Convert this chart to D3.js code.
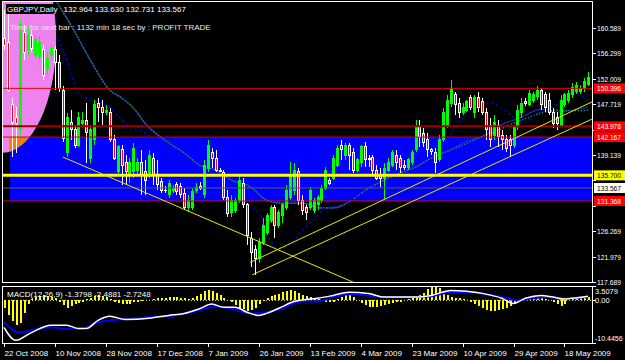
<!DOCTYPE html>
<html><head><meta charset="utf-8">
<script src="https://cdn.jsdelivr.net/npm/d3@7"></script>
<style>body{margin:0;background:#000;overflow:hidden}svg{display:block}</style>
</head><body><svg id="c" width="625" height="360"></svg>
<script>
// ---------- DATA ----------
const symbolText = "GBPJPY,Daily";
const quoteText = "132.964 133.630 132.731 133.567";
const timerText = "Time for next bar : 1132 min 18 sec by : PROFIT TRADE";
const macdText = "MACD(12,26,9) -1.3798 -2.4881 -2.7248";
const dateLabels = ["22 Oct 2008","10 Nov 2008","28 Nov 2008","17 Dec 2008","7 Jan 2009","26 Jan 2009","13 Feb 2009","4 Mar 2009","23 Mar 2009","10 Apr 2009","29 Apr 2009","18 May 2009"];
const priceTicks = [160.589,156.299,152.009,147.719,143.429,139.139,134.849,130.559,126.269,121.979,117.689];
const macdTicks = [3.5079,0,-10.4456];

const opens = [158.9,158.1,147.6,145.4,143.4,159.9,156.9,159.4,156.0,155.7,
156.9,153.8,155.9,156.9,154.8,150.1,139.6,144.7,143.4,140.8,
144.5,145.0,138.6,141.7,147.9,147.2,146.4,146.4,141.7,136.3,
140.0,137.9,135.7,136.3,136.6,137.8,136.3,135.7,138.6,135.7,
134.6,133.2,132.4,133.2,134.1,133.9,132.7,130.2,130.3,133.2,
133.9,132.4,136.9,139.6,138.6,136.6,136.1,132.0,129.5,129.8,
131.5,134.4,130.7,125.1,123.1,121.7,124.4,126.1,128.1,130.2,
127.3,129.0,130.2,131.9,133.2,136.3,131.5,130.2,130.3,129.8,
130.7,131.5,133.5,134.9,135.2,137.4,140.8,139.1,140.8,139.6,
136.6,137.8,140.5,138.6,138.8,136.6,135.7,135.2,136.6,137.4,
139.1,138.6,137.4,137.1,137.9,140.0,143.9,142.8,141.7,140.0,
139.5,138.3,141.7,144.2,147.9,149.3,147.9,146.4,146.7,148.8,
146.4,148.9,148.1,146.4,144.2,142.5,144.2,142.5,141.7,141.7,
140.8,143.9,146.4,148.2,147.7,148.4,149.1,150.1,149.3,148.4,
146.4,145.5,144.2,147.6,148.4,149.3,149.8,149.9,150.3,151.1];
const highs = [163.6,164.5,148.8,147.2,161.9,161.1,160.6,160.2,159.4,159.2,
157.7,156.5,157.7,157.5,156.0,150.8,146.2,146.7,144.2,146.4,
146.4,147.9,144.2,148.4,148.8,148.4,147.6,147.1,142.5,140.8,
140.8,139.1,138.6,141.2,138.6,140.0,138.3,140.0,139.5,138.3,
135.2,133.9,134.9,134.1,134.6,134.4,133.6,132.4,133.6,134.4,
134.6,138.3,141.7,140.3,140.0,136.9,136.6,133.2,132.4,131.9,
135.7,135.2,131.0,126.1,123.9,125.1,128.5,129.3,130.7,130.7,
129.8,131.0,134.1,137.9,137.8,136.9,132.4,130.7,133.7,131.9,
132.4,134.1,137.1,135.2,139.1,140.8,141.7,141.2,141.2,140.3,
138.6,140.8,141.3,139.1,139.1,137.4,136.9,137.8,138.6,140.0,
140.0,139.1,138.3,138.6,140.0,145.0,145.0,143.7,142.8,140.3,
140.3,142.5,147.1,149.3,151.8,149.8,148.8,147.9,148.4,149.3,
149.3,149.8,148.8,147.1,145.4,145.9,145.0,143.4,142.5,142.5,
144.2,147.6,148.8,148.8,150.1,149.8,150.8,150.4,149.8,149.6,
147.1,146.4,149.3,149.6,150.1,151.3,151.5,150.9,152.1,153.1];
const lows = [156.9,149.8,138.8,139.5,142.5,155.2,155.9,156.5,155.5,155.2,
151.8,152.6,155.2,150.1,149.8,141.3,138.8,141.7,140.3,140.5,
144.2,137.8,137.8,140.8,144.7,144.2,145.9,141.3,138.3,135.7,
134.1,134.1,134.4,135.2,135.7,132.4,132.4,135.2,134.1,133.2,
132.7,132.7,131.9,132.7,132.4,131.9,129.8,129.5,129.8,132.7,
133.2,131.9,136.3,136.9,136.3,136.3,131.5,128.6,128.6,129.3,
131.0,130.2,123.9,120.2,118.8,120.9,123.9,125.6,127.6,125.1,
126.8,127.6,129.8,131.5,132.4,130.7,129.0,128.1,129.8,129.3,
129.8,131.0,133.2,134.1,134.9,137.1,138.3,138.3,136.6,136.1,
136.3,137.1,137.1,137.1,135.7,134.9,133.7,131.5,136.3,137.1,
136.6,136.1,136.6,136.6,137.4,139.6,140.5,140.5,138.8,139.1,
136.1,137.9,141.3,143.7,147.2,145.9,145.4,145.9,146.4,146.7,
145.4,146.4,145.9,141.7,140.5,141.7,140.5,140.0,139.6,138.8,
140.3,143.4,145.4,147.4,147.4,147.9,148.4,146.7,146.4,145.9,
143.7,143.4,143.9,147.2,147.9,148.8,149.4,149.4,149.8,150.8];
const closes = [157.7,150.1,144.7,144.5,161.1,156.5,159.4,157.2,158.6,158.2,
152.6,155.5,157.2,154.8,150.4,142.0,145.5,143.4,140.8,145.4,
145.0,143.0,143.4,147.6,147.1,146.4,146.7,141.7,138.6,140.5,
137.4,136.3,137.8,140.3,137.8,135.7,134.9,139.1,135.7,134.1,
133.2,133.2,134.4,133.5,132.9,132.4,130.3,131.5,132.9,133.7,
133.5,137.4,140.8,138.6,136.6,136.5,132.0,129.3,131.5,131.5,
134.9,130.7,125.6,122.7,121.7,124.4,127.3,129.0,130.3,127.3,
129.5,130.7,133.2,135.7,136.6,131.5,129.8,129.5,133.2,131.5,
131.9,133.5,136.6,134.4,138.6,140.3,140.0,140.8,139.1,136.6,
138.3,140.5,138.3,138.3,136.6,135.2,135.2,136.9,137.9,139.5,
137.8,137.1,137.1,138.3,139.6,143.7,142.2,141.3,140.0,139.8,
137.8,141.7,146.4,148.4,150.4,147.6,146.4,147.2,148.1,147.1,
148.8,147.1,146.4,143.4,141.7,144.7,142.2,141.7,140.3,140.8,
143.7,146.7,147.9,147.9,149.6,149.4,150.1,147.6,147.1,146.4,
144.5,144.5,148.4,149.3,149.6,150.6,150.8,150.4,151.5,152.3];

// moving averages: [bar, price]
const maGreen = [[12,166.5],[14,164.4],[18,160.0],[22,155.2],[27,150.1],[30,148.8],[33,147.1],[36,144.5],[42,141.2],[46,139.5],[50,137.4],[54,136.6],[58,134.9],[63,133.7],[67,131.5],[71,131.0],[76,131.0],[81,130.2],[84,130.2],[88,131.2],[93,133.5],[97,134.9],[101,136.1],[105,137.1],[109,138.6],[114,140.0],[117,140.8],[121,142.0],[125,143.0],[130,144.5],[134,145.5],[138,146.4],[142,146.7],[146,146.6],[149,146.7]];
const maBlue = [[12,166.5],[14,164.4],[18,160.0],[22,155.2],[27,150.1],[30,148.8],[33,147.1],[36,144.5],[42,141.2],[46,139.5],[50,137.4],[54,136.6],[58,134.9],[63,133.7],[67,131.5],[71,131.0],[76,131.0],[81,130.2],[84,130.2],[88,131.2],[93,133.5],[97,134.9],[101,136.1],[105,137.1],[109,138.6],[114,140.0],[118,141.5],[122,142.3],[126,144.0],[132,145.5],[137,146.9],[141,146.4],[144,146.6],[149,147.2]];
const maDotted = [[14,158.6],[16,155.2],[19,149.6],[27,147.1],[32,143.9],[37,142.5],[42,138.3],[50,134.9],[55,132.4],[62,130.7],[65,129.3],[67,125.9],[70,123.4],[74,124.7],[76,126.4],[79,128.2],[82,130.2],[86,130.7],[91,132.4],[96,134.9],[101,136.3],[106,137.8],[111,140.3],[115,143.7],[118,146.2],[121,147.6],[124,147.9],[127,147.1],[130,145.5],[132,144.5],[136,146.2],[140,147.2],[143,148.4],[146,149.3],[149,148.4]];

// trend lines: [bar1, price1, bar2, price2]
const trendLines = [[15,138.8,90,117.4],[63.3,118.9,150,145.2],[62.8,121.0,150,148.1]];
// horizontal levels
const levelRed = [150.396,142.167,131.368];
const levelDark = [143.978];
const levelYellow = [135.700];
const levelClose = [133.567];
// rectangle (bar from, price top, price bottom) and ellipse box (bars, prices)
const rectBar = [1.5, 200];
const rectPrices = [142.167, 131.368];
const ellipseBars = [-14.3, 13.3];
const ellipsePrices = [177.6, 139.5];

// MACD
const macdHist = [-2.0,-3.5,-5.0,-6.0,-5.5,-3.0,-1.0,0.3,0.8,1.0,
1.2,1.0,0.8,0.6,-0.5,-1.2,-1.8,-1.5,-1.0,-0.6,
-0.3,0.3,0.6,1.0,1.2,1.0,0.8,0.3,-0.3,-0.6,
-0.8,-1.0,-0.8,-0.5,-0.3,-0.2,0.0,0.2,0.4,0.5,
0.6,0.6,0.8,0.8,0.7,0.6,0.5,0.4,0.6,1.0,
1.6,2.2,2.6,2.4,1.8,1.2,0.6,0.2,-0.5,-1.2,
-1.8,-2.2,-2.6,-2.4,-1.8,-1.0,-0.2,0.5,1.0,1.3,
1.6,2.0,2.4,2.6,2.2,1.8,1.4,1.0,0.8,0.6,
0.4,0.0,-0.3,-0.5,-0.3,0.3,0.8,1.2,1.2,0.8,
0.2,-0.6,-1.2,-1.6,-1.7,-1.6,-1.4,-1.2,-0.8,-0.6,
-0.4,-0.3,0.0,0.3,0.5,0.8,1.2,1.8,2.8,3.2,
3.3,3.0,2.4,1.2,0.8,0.6,0.5,0.4,0.2,-0.3,
-0.8,-1.4,-2.0,-2.4,-2.6,-2.6,-2.4,-2.2,-1.8,-1.3,
-0.8,-0.3,0.1,0.4,0.6,0.8,0.8,0.6,0.4,0.2,
-0.4,-1.0,-1.3,-0.8,0.0,0.5,0.8,0.9,0.8,0.8];
const macdMain = [[0,-6.6],[3,-9.8],[7,-7.9],[12,-6.1],[16,-6.1],[19,-6.9],[21,-6.9],[24,-4.9],[27,-3.9],[31,-4.7],[37,-4.4],[42,-3.7],[46,-3.2],[50,-2.0],[53,-0.9],[56,-1.7],[59,-1.7],[62,-2.9],[65,-3.7],[67,-3.2],[70,-2.0],[74,-0.3],[78,0.3],[80,0.5],[84,1.2],[88,2.0],[93,1.7],[97,0.8],[101,0.8],[105,0.8],[109,1.2],[114,2.4],[118,2.2],[122,1.7],[127,0.5],[130,-0.8],[133,0.5],[137,1.2],[140,0.8],[143,0.3],[145,0.5],[149,1.0]];
const macdSignal = [[0,-5.4],[4,-7.9],[7,-7.3],[12,-6.6],[16,-7.1],[20,-6.9],[24,-5.4],[29,-4.7],[33,-4.4],[37,-4.1],[42,-3.9],[46,-3.2],[50,-2.4],[54,-1.5],[58,-2.0],[63,-3.2],[67,-2.9],[71,-2.0],[76,-0.3],[80,-0.3],[84,0.8],[88,1.5],[93,1.2],[97,0.8],[101,0.8],[105,0.8],[109,1.0],[114,2.0],[118,2.0],[122,1.7],[127,0.8],[131,0.0],[135,0.5],[139,0.8],[144,0.5],[149,0.8]];

// ---------- DRAW ----------
const svg = d3.select("#c");
const FONT = "Liberation Sans, Arial, sans-serif";
const L = 2, R = 592, T = 1, B = 282, MT = 286, MB = 343;
const n = closes.length;
const x = d3.scaleLinear().domain([0, n - 1]).range([4, 588]);
const y = d3.scaleLinear().domain([117.689, 160.589]).range([282, 28]);
const my = d3.scaleLinear().domain([-10.4456, 3.5079]).range([MB, MT]);

svg.append("rect").attr("width", 625).attr("height", 360).attr("fill", "#000");
const defs = svg.append("defs");
defs.append("clipPath").attr("id", "plot").append("rect").attr("x", L + 1).attr("y", T + 1).attr("width", R - L - 1).attr("height", B - T - 1);
defs.append("clipPath").attr("id", "mplot").append("rect").attr("x", L + 1).attr("y", MT + 1).attr("width", R - L - 1).attr("height", MB - MT - 1);
const rx0 = x(rectBar[0]), ry0 = y(rectPrices[0]), ry1 = y(rectPrices[1]);
defs.append("clipPath").attr("id", "rectclip").append("rect").attr("x", rx0).attr("y", ry0).attr("width", R - rx0).attr("height", ry1 - ry0);

const g = svg.append("g").attr("clip-path", "url(#plot)");
const ecx = (x(ellipseBars[0]) + x(ellipseBars[1])) / 2, erx = (x(ellipseBars[1]) - x(ellipseBars[0])) / 2;
const ecy = (y(ellipsePrices[0]) + y(ellipsePrices[1])) / 2, ery = (y(ellipsePrices[1]) - y(ellipsePrices[0])) / 2;
g.append("ellipse").attr("cx", ecx).attr("cy", ecy).attr("rx", erx).attr("ry", ery).attr("fill", "#EE82EE");
g.append("rect").attr("x", rx0).attr("y", ry0).attr("width", R - rx0).attr("height", ry1 - ry0).attr("fill", "#0000FF");
g.append("g").attr("clip-path", "url(#rectclip)").append("ellipse").attr("cx", ecx).attr("cy", ecy).attr("rx", erx).attr("ry", ery).attr("fill", "#EE8211");

// moving averages
const maLine = d3.line().x(d => x(d[0])).y(d => y(d[1])).curve(d3.curveMonotoneX);
g.append("path").attr("d", maLine(maBlue)).attr("fill", "none").attr("stroke", "#1030C0").attr("stroke-width", 1.2);
g.append("path").attr("d", maLine(maGreen)).attr("fill", "none").attr("stroke", "#2E7D4F").attr("stroke-width", 1.5).attr("stroke-dasharray", "1.5,1.5");
g.append("path").attr("d", maLine(maDotted)).attr("fill", "none").attr("stroke", "#0000FF").attr("stroke-width", 1.5).attr("stroke-dasharray", "2,3");

// candles
const idx = d3.range(n);
const cg = g.append("g").attr("shape-rendering", "crispEdges");
idx.forEach(i => {
  const o = opens[i], c = closes[i], up = c > o, cx = Math.round(x(i)) + 0.5;
  cg.append("line").attr("x1", cx).attr("x2", cx).attr("y1", y(highs[i])).attr("y2", y(lows[i]))
    .attr("stroke", up ? "#00FF00" : "#FFFFFF");
  const top = y(Math.max(o, c)), h = Math.max(1, y(Math.min(o, c)) - top);
  if (Math.abs(c - o) < 0.05) {
    cg.append("line").attr("x1", cx - 1.5).attr("x2", cx + 1.5).attr("y1", top).attr("y2", top).attr("stroke", "#FFFFFF");
  } else {
    cg.append("rect").attr("x", cx - 1).attr("y", top).attr("width", 2).attr("height", h)
      .attr("fill", up ? "#00FF00" : "#FF0000").attr("stroke", up ? "#00FF00" : "#FFFFFF").attr("stroke-width", 1);
  }
});

// horizontal levels
const hl = (p, col, w) => g.append("line").attr("x1", L).attr("x2", R).attr("y1", y(p)).attr("y2", y(p)).attr("stroke", col).attr("stroke-width", w);
levelClose.forEach(p => hl(p, "#5A5A5A", 1));
levelRed.forEach(p => hl(p, "#E00000", 1));
levelDark.forEach(p => hl(p, "#9A0000", 2));
levelYellow.forEach(p => hl(p, "#FFFF00", 3));

// trend lines
trendLines.forEach(t => {
  g.append("line").attr("x1", x(t[0])).attr("y1", y(t[1])).attr("x2", x(t[2])).attr("y2", y(t[3]))
    .attr("stroke", "#E8E800").attr("stroke-width", 1);
});

// frames
svg.append("rect").attr("x", L + 0.5).attr("y", T + 0.5).attr("width", R - L).attr("height", B - T).attr("fill", "none").attr("stroke", "#FFFFFF");
svg.append("rect").attr("x", L + 0.5).attr("y", MT + 0.5).attr("width", R - L).attr("height", MB - MT).attr("fill", "none").attr("stroke", "#FFFFFF");

// price axis
const ax = svg.append("g").attr("font-family", FONT).attr("font-size", 8).attr("fill", "#FFFFFF");
const boxes = [[levelRed[0], "#FF0000", "#FFF"], [levelDark[0], "#FF0000", "#FFF"], [levelRed[1], "#FF0000", "#FFF"],
  [levelYellow[0], "#FFFF00", "#000"], [levelClose[0], "#FFFFFF", "#000"], [levelRed[2], "#FF0000", "#FFF"]];
priceTicks.forEach(p => {
  ax.append("line").attr("x1", R + 1).attr("x2", R + 4).attr("y1", Math.round(y(p)) + 0.5).attr("y2", Math.round(y(p)) + 0.5).attr("stroke", "#FFF");
  const hidden = boxes.some(b => Math.abs(y(b[0]) - y(p)) < 9);
  if (!hidden) ax.append("text").attr("x", 597).attr("y", y(p) + 3).attr("textLength", 24).attr("lengthAdjust", "spacingAndGlyphs").text(p.toFixed(3));
});
boxes.forEach(b => {
  const yy = y(b[0]);
  ax.append("rect").attr("x", 594).attr("y", yy - 5).attr("width", 31).attr("height", 10).attr("fill", b[1]);
  ax.append("text").attr("x", 597).attr("y", yy + 3).attr("fill", b[2]).attr("textLength", 24).attr("lengthAdjust", "spacingAndGlyphs").text(b[0].toFixed(3));
});

// MACD
const mg = svg.append("g").attr("clip-path", "url(#mplot)");
mg.append("g").attr("shape-rendering", "crispEdges").selectAll("rect").data(idx).join("rect")
  .attr("x", i => Math.round(x(i)) - 0.5).attr("width", 2)
  .attr("y", i => Math.min(my(0), my(macdHist[i]))).attr("height", i => Math.abs(my(macdHist[i]) - my(0)))
  .attr("fill", "#FFFF00");
mg.append("line").attr("x1", L).attr("x2", R).attr("y1", my(0)).attr("y2", my(0)).attr("stroke", "#FFFF00").attr("stroke-dasharray", "1,2");
const mline = d3.line().x(d => x(d[0])).y(d => my(d[1])).curve(d3.curveMonotoneX);
mg.append("path").attr("d", mline(macdSignal)).attr("fill", "none").attr("stroke", "#0000FF").attr("stroke-width", 2);
mg.append("path").attr("d", mline(macdMain)).attr("fill", "none").attr("stroke", "#FFFFFF").attr("stroke-width", 1.5);

macdTicks.forEach((v, k) => {
  ax.append("line").attr("x1", R + 1).attr("x2", R + 4).attr("y1", Math.round(my(v)) + 0.5).attr("y2", Math.round(my(v)) + 0.5).attr("stroke", "#FFF");
  const ty = k === 0 ? my(v) + 8 : (k === 2 ? my(v) - 2 : my(v) + 3);
  ax.append("text").attr("x", 595).attr("y", ty).attr("font-size", k === 2 ? 7 : 7.5)
    .text(k === 1 ? v.toFixed(2) : v.toFixed(4));
});

// date axis
dateLabels.forEach((t, k) => {
  const xx = Math.round(x(k * 13)) + 0.5;
  ax.append("line").attr("x1", xx).attr("x2", xx).attr("y1", MB + 1).attr("y2", MB + 4).attr("stroke", "#FFF");
  ax.append("text").attr("x", xx).attr("y", 356).text(t);
});

// header texts
const ht = svg.append("g").attr("font-family", FONT).attr("font-size", 8).attr("fill", "#FFFFFF");
const st = ht.append("text").attr("x", 7).attr("y", 12).text(symbolText);
const bb = st.node().getBBox();
ht.insert("rect", "text").attr("x", bb.x - 1).attr("y", bb.y - 1).attr("width", bb.width + 2).attr("height", bb.height + 1).attr("fill", "#000");
ht.append("text").attr("x", bb.x + bb.width + 6).attr("y", 12).text(quoteText);
ht.append("text").attr("x", 10).attr("y", 30).attr("fill", "#E8E8E8").text(timerText);
ht.append("text").attr("x", 7).attr("y", 297).text(macdText);
</script></body></html>
